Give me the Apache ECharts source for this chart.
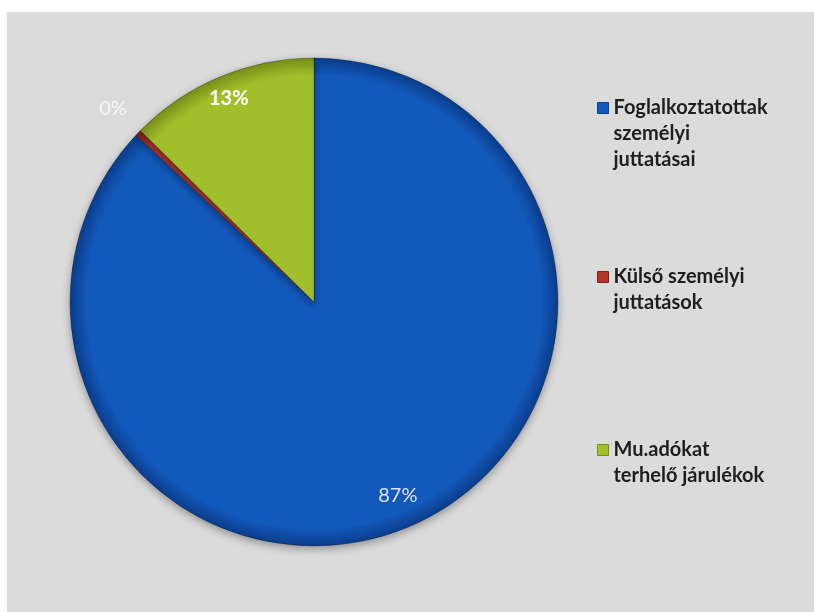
<!DOCTYPE html>
<html>
<head>
<meta charset="utf-8">
<script src="https://cdn.jsdelivr.net/npm/echarts@6/dist/echarts.min.js"></script>
<style>
  html, body { margin: 0; padding: 0; background: #ffffff; }
  #myChart { position: absolute; left: 7px; top: 12px; width: 807px; height: 600px; background: #dcdbdc; }
</style>
</head>
<body>
<div id="myChart"></div>
<script>
// kategóriák és értékek (%)
const categories = ['Foglalkoztatottak\nszemélyi\njuttatásai', 'Külső személyi\njuttatások', 'Mu.adókat\nterhelő járulékok']
const values = [87.0, 0.4, 12.6]
const colors = ['#1358bb', '#b2352b', '#a1be2b']
const rimColors = ['#0b3e8c', '#7e1f18', '#76901a']

const cx = 307
const cy = 290
const R = 244

// a százalék feliratok gyűrűi (belső / külső sugár)
const labelRings = [[172, R], [R, 308], [192, R]]
const labelColors = ['#dde4f0', '#f6f6f6', '#ffffff']
const labelWeights = ['normal', 'normal', 'bold']

function sliceColor (i) {
  return {
    type: 'radial',
    x: cx,
    y: cy,
    r: R,
    global: true,
    colorStops: [
      { offset: 0, color: colors[i] },
      { offset: 0.93, color: colors[i] },
      { offset: 1, color: rimColors[i] }
    ]
  }
}

let pctFormatter = function (params) {
  return Math.round(params.percent) + '%'
}

let mainData = []
for (let i in categories) {
  mainData.push({ name: categories[i], value: values[i], itemStyle: { color: sliceColor(i) } })
}

let series = [
  {
    type: 'pie',
    center: [cx, cy],
    radius: R,
    startAngle: 90,
    clockwise: true,
    label: { show: false },
    labelLine: { show: false },
    emphasis: { disabled: true },
    itemStyle: {
      borderColor: 'rgba(0,0,0,0.25)',
      borderWidth: 1,
      shadowBlur: 8,
      shadowOffsetY: 3,
      shadowColor: 'rgba(0,0,0,0.35)'
    },
    data: mainData
  }
]

// átlátszó gyűrűk csak a feliratokhoz
for (let k = 0; k < categories.length; k++) {
  series.push({
    type: 'pie',
    center: [cx, cy],
    radius: labelRings[k],
    startAngle: 90,
    silent: true,
    itemStyle: { color: 'transparent' },
    emphasis: { disabled: true },
    label: {
      position: 'inside',
      formatter: pctFormatter,
      fontFamily: 'Lato',
      fontSize: 20,
      fontWeight: labelWeights[k],
      color: labelColors[k]
    },
    data: categories.map(function (name, i) {
      return { name: name, value: values[i], label: { show: i === k } }
    })
  })
}

// az ikon az első sorhoz igazodjon: üres sorok a szöveg elé
function makeLegend (idx, top) {
  return {
    orient: 'vertical',
    left: 585,
    top: top,
    itemWidth: 11,
    itemHeight: 11,
    icon: 'rect',
    selectedMode: false,
    data: [{ name: categories[idx], itemStyle: { color: colors[idx], borderColor: rimColors[idx], borderWidth: 1 } }],
    formatter: function (name) {
      let n = name.split('\n').length
      return '\n'.repeat(n - 1) + name
    },
    textStyle: {
      fontFamily: 'Lato',
      fontWeight: 'bold',
      fontSize: 20,
      lineHeight: 26,
      color: '#1e1e1e'
    }
  }
}

let myChart = echarts.init(document.getElementById('myChart'))
myChart.setOption({
  animation: false,
  legend: [
    makeLegend(0, 26),
    makeLegend(1, 221),
    makeLegend(2, 394)
  ],
  series: series
})
</script>
</body>
</html>
